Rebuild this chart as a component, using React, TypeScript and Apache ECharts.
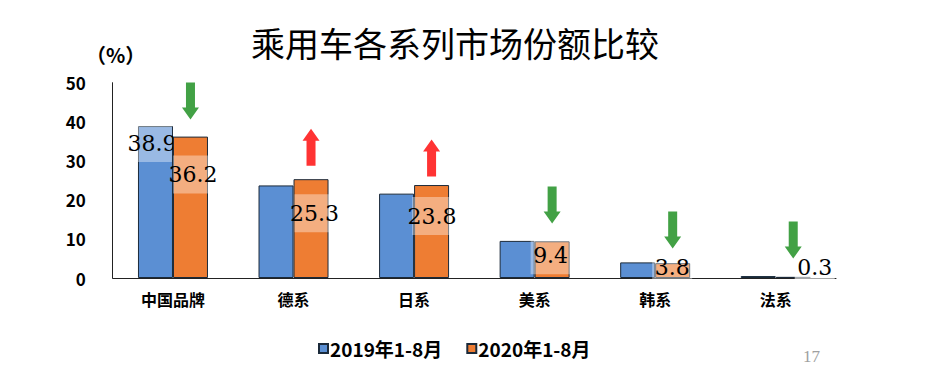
import React, { useEffect, useRef } from "react";
import * as echarts from "echarts";

const categories = ["中国品牌", "德系", "日系", "美系", "韩系", "法系"];
const series2019 = [38.9, 23.7, 21.6, 9.5, 4.0, 0.5];
const series2020 = [36.2, 25.3, 23.8, 9.4, 3.8, 0.3];
const yTicks = [0, 10, 20, 30, 40, 50];
const arrowDirs = ["down", "up", "up", "down", "down", "down"];
const arrowLevels = [45.3, 33.5, 30.7, 18.7, 12.3, 9.7];
const legendNames = ["2019年1-8月", "2020年1-8月"];

const BLUE = "#5B8FD3";
const ORANGE = "#EE7D33";
const BAR_W = 35;

// label position offsets relative to the bar rect (style only)
const label2020Pos = [[20, 38], [21, 34], [18, 31], [16, 14], [17, 4], [39, -9]];

const DOWN = "path://M4,0 L13,0 L13,25 L17,25 L8.5,37 L0,25 L4,25 Z";
const UP = "path://M4,37 L13,37 L13,12 L17,12 L8.5,0 L0,12 L4,12 Z";

const labelBase = {
  show: true,
  color: "#000",
  fontFamily: "DejaVu Serif",
  fontSize: 22,
  align: "center",
  verticalAlign: "middle",
  backgroundColor: "rgba(255,255,255,0.38)",
  width: 40,
  height: 38,
  lineHeight: 38,
  overflow: "none",
};

export default function App() {
  const ref = useRef<HTMLDivElement>(null);
  useEffect(() => {
    if (!ref.current) return;
    const chart = echarts.init(ref.current, null, { renderer: "svg" });
    const cjk = "Noto Sans CJK SC";
    chart.setOption({
      animation: false,
      backgroundColor: "#fff",
      title: {
        text: "乘用车各系列市场份额比较",
        left: 246,
        top: 20,
        textStyle: { fontFamily: cjk, fontSize: 34, fontWeight: "normal", color: "#000" },
      },
      legend: {
        data: legendNames,
        left: 313,
        top: 334,
        itemWidth: 9,
        itemHeight: 9,
        itemGap: 24,
        icon: "rect",
        textStyle: { fontFamily: cjk, fontSize: 19, fontWeight: "bold", color: "#000", padding: [0, 0, 0, -3] },
      },
      grid: { left: 112.7, right: 99, top: 82.7, bottom: 97, containLabel: false },
      xAxis: {
        type: "category",
        data: categories,
        axisLine: { show: true, lineStyle: { color: "#222", width: 1 } },
        axisTick: { show: false },
        axisLabel: { fontFamily: cjk, fontSize: 16, fontWeight: "bold", color: "#000", margin: 13 },
      },
      yAxis: {
        type: "value",
        min: yTicks[0],
        max: yTicks[yTicks.length - 1],
        interval: 10,
        splitLine: { show: false },
        axisLine: { show: true, lineStyle: { color: "#222", width: 1 } },
        axisTick: { show: false },
        axisLabel: { fontFamily: cjk, fontSize: 17, fontWeight: "bold", color: "#000", margin: 27 },
      },
      series: [
        {
          name: legendNames[0],
          type: "bar",
          barWidth: BAR_W,
          barGap: "0%",
          itemStyle: { color: BLUE, borderColor: "#1b2a3a", borderWidth: 1 },
          data: series2019.map((v, i) => ({
            value: v,
            label:
              i === 0
                ? { ...labelBase, position: [14, 17] }
                : { show: false },
          })),
        },
        {
          name: legendNames[1],
          type: "bar",
          barWidth: BAR_W,
          barGap: "0%",
          itemStyle: { color: ORANGE, borderColor: "#1b2a3a", borderWidth: 1 },
          data: series2020.map((v, i) => ({
            value: v,
            label: {
              ...labelBase,
              position: label2020Pos[i],
              backgroundColor: i === 5 ? "rgba(255,255,255,0.6)" : labelBase.backgroundColor,
              height: i >= 4 ? 24 : 38,
              lineHeight: i >= 4 ? 24 : 38,
            },
          })),
          z: 3,
        },
        {
          type: "scatter",
          silent: true,
          symbolOffset: [BAR_W / 2, 0],
          data: arrowLevels.map((v, i) => ({
            value: [i, v],
            symbol: arrowDirs[i] === "up" ? UP : DOWN,
            symbolSize: [17, 37],
            itemStyle: { color: arrowDirs[i] === "up" ? "#FF0000" : "#138A16" },
          })),
          z: 5,
        },
      ],
      graphic: [
        {
          type: "text",
          left: 86,
          top: 44,
          style: { text: "（%）", font: `bold 20px "${cjk}"`, fill: "#000" },
        },
        {
          type: "text",
          left: 803,
          top: 348,
          style: { text: "17", font: `17px "Liberation Serif"`, fill: "#a0a0a0" },
        },
      ],
    });
    return () => chart.dispose();
  }, []);
  return (
    <div
      ref={ref}
      style={{ position: "fixed", left: 0, top: 0, width: 935, height: 375, background: "#fff" }}
    />
  );
}
